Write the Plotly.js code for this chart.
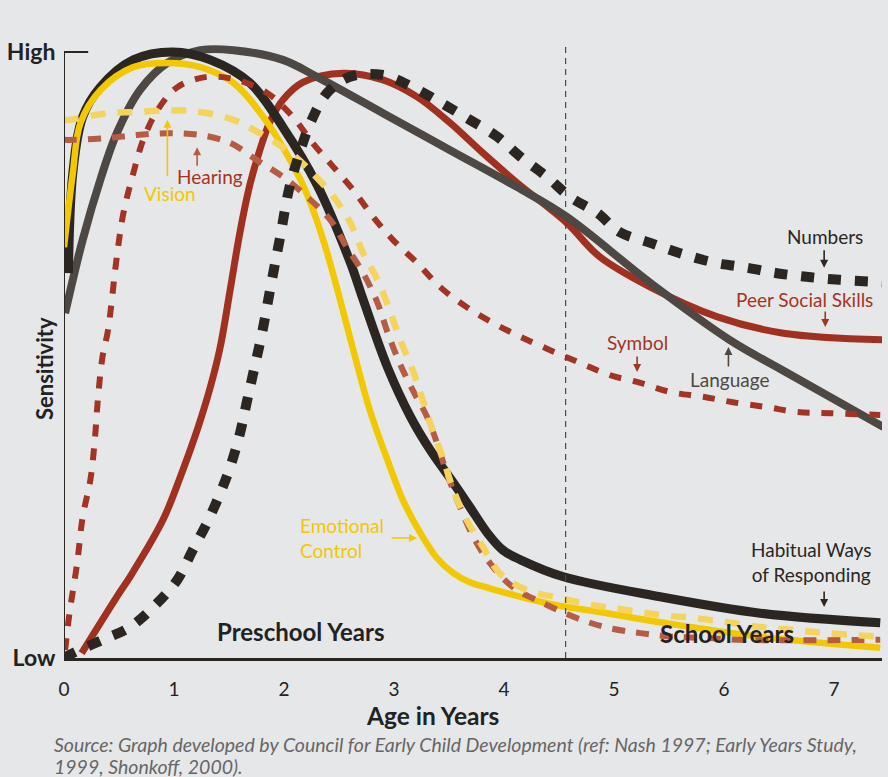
<!DOCTYPE html>
<html><head><meta charset="utf-8">
<script src="https://cdn.plot.ly/plotly-3.0.1.min.js"></script>
<style>html,body{margin:0;padding:0;background:#e6e7e9;}</style>
</head><body><div id="chart" style="width:888px;height:777px;"></div>
<script>
// Age in years / relative sensitivity (0 = Low, 1 = High)
const habitualX = [0.04,0.08,0.17,0.33,0.63,0.99,1.33,1.69,1.99,2.30,2.60,2.72,2.94,3.15,3.33,3.54,3.69,3.85,3.99,4.15,4.54,5.42,6.33,7.42];
const habitualY = [0.635,0.800,0.893,0.942,0.987,1.000,0.987,0.949,0.876,0.781,0.654,0.591,0.480,0.398,0.343,0.289,0.249,0.206,0.178,0.162,0.134,0.101,0.074,0.058];

const emotionalX = [0.00,0.08,0.15,0.33,0.63,0.94,1.24,1.54,1.85,2.15,2.24,2.37,2.51,2.63,2.78,2.94,3.08,3.24,3.39,3.54,3.70,3.85,4.15,4.51,4.87,5.42,6.33,7.42];
const emotionalY = [0.678,0.800,0.883,0.937,0.975,0.982,0.975,0.949,0.883,0.789,0.751,0.682,0.591,0.508,0.409,0.327,0.261,0.206,0.165,0.140,0.124,0.116,0.101,0.086,0.076,0.059,0.035,0.017];

const languageX = [0.01,0.17,0.33,0.48,0.69,0.94,1.24,1.54,1.99,2.30,2.90,3.51,4.12,4.57,5.33,6.05,6.54,7.45];
const languageY = [0.569,0.690,0.789,0.866,0.937,0.982,1.003,1.003,0.987,0.959,0.899,0.838,0.777,0.728,0.619,0.525,0.474,0.381];

const peerX = [0.16,0.48,0.60,0.90,1.08,1.21,1.33,1.42,1.51,1.60,1.69,1.78,1.87,1.99,2.17,2.54,2.90,3.21,3.51,3.81,4.12,4.57,4.87,5.33,5.94,6.54,7.45];
const peerY = [0.008,0.101,0.134,0.228,0.310,0.376,0.447,0.513,0.607,0.703,0.781,0.838,0.884,0.921,0.950,0.965,0.954,0.926,0.883,0.833,0.784,0.718,0.662,0.612,0.563,0.536,0.525];

const numbersX = [0.00,0.08,0.35,0.60,0.85,1.03,1.17,1.30,1.42,1.51,1.60,1.66,1.72,1.80,1.89,1.96,2.05,2.15,2.24,2.39,2.60,2.90,3.17,3.42,3.69,3.94,4.15,4.39,4.60,4.85,5.05,5.33,5.60,5.90,6.21,6.48,6.75,7.05,7.45];
const numbersY = [0.000,0.008,0.030,0.051,0.091,0.129,0.178,0.223,0.272,0.315,0.371,0.421,0.470,0.536,0.624,0.690,0.777,0.838,0.883,0.932,0.959,0.962,0.942,0.917,0.888,0.860,0.827,0.794,0.761,0.734,0.703,0.685,0.668,0.653,0.644,0.635,0.629,0.624,0.620];

const symbolX = [0.01,0.05,0.12,0.17,0.24,0.28,0.31,0.35,0.40,0.48,0.54,0.63,0.72,0.85,1.03,1.30,1.57,1.85,2.08,2.26,2.45,2.63,2.81,2.99,3.21,3.42,3.66,3.90,4.15,4.42,4.69,4.96,5.24,5.51,5.81,6.08,6.39,6.66,6.96,7.42];
const symbolY = [0.013,0.074,0.157,0.233,0.294,0.360,0.431,0.497,0.541,0.662,0.734,0.800,0.855,0.904,0.942,0.959,0.954,0.932,0.893,0.850,0.810,0.772,0.728,0.690,0.652,0.612,0.579,0.553,0.530,0.508,0.487,0.467,0.454,0.439,0.431,0.422,0.414,0.406,0.404,0.401];

const visionX = [0.00,0.05,0.39,0.66,0.96,1.24,1.54,1.78,2.05,2.26,2.45,2.60,2.72,2.85,2.96,3.05,3.17,3.26,3.35,3.45,3.54,3.66,3.81,3.96,4.21,4.51,4.81,5.12,5.42,5.72,6.03,6.33,6.63,6.94,7.42];
const visionY = [0.888,0.888,0.899,0.901,0.904,0.901,0.888,0.866,0.835,0.800,0.761,0.719,0.668,0.624,0.574,0.528,0.475,0.426,0.376,0.327,0.277,0.228,0.183,0.140,0.112,0.099,0.087,0.079,0.071,0.066,0.059,0.051,0.046,0.041,0.035];

const hearingX = [0.00,0.08,0.39,0.66,0.96,1.24,1.51,1.75,1.99,2.21,2.42,2.57,2.72,2.85,2.94,3.05,3.17,3.30,3.39,3.48,3.60,3.72,3.87,4.08,4.35,4.66,4.94,5.24,5.54,5.85,6.15,7.42];
const hearingY = [0.855,0.855,0.858,0.863,0.866,0.863,0.850,0.822,0.794,0.761,0.723,0.678,0.635,0.586,0.538,0.487,0.442,0.398,0.355,0.305,0.249,0.200,0.157,0.117,0.091,0.066,0.050,0.041,0.035,0.033,0.030,0.030];

const tickVals = [0,1,2,3,4,5,6,7];
const tickText = ["0","1","2","3","4","5","6","7"];
const schoolStart = 4.56;

const FONT = "Lato, 'Open Sans', sans-serif";
const DARK = "#2b2622";
const RED = "#a33424";
const YEL = "#f2c800";
const GRAY = "#4e4844";
const VIS = "#f5d45e";
const HEAR = "#b75c44";

function tr(x, y, color, width, dash) {
  return {x: x, y: y, type: 'scatter', mode: 'lines', hoverinfo: 'skip',
    line: {color: color, width: width, dash: dash || 'solid', shape: 'spline', smoothing: 1}};
}

const data = [
  tr(peerX, peerY, "#a0301f", 7),
  tr(languageX, languageY, GRAY, 8),
  tr(habitualX, habitualY, DARK, 9),
  tr(emotionalX, emotionalY, YEL, 6.5),
  tr(hearingX, hearingY, HEAR, 6, '13px,11px'),
  tr(visionX, visionY, VIS, 6.5, '15px,12px'),
  tr(symbolX, symbolY, RED, 6, '12px,12px'),
  tr(numbersX, numbersY, DARK, 10, '13px,14px')
];

const LS = 19;
function lbl(x, y, text, color, extra) {
  return Object.assign({x: x, y: y, xref: 'x', yref: 'y', text: text, showarrow: false,
    font: {family: FONT, size: LS, color: color}}, extra || {});
}
function arr(x, y, ax, ay, color) {
  return {x: x, y: y, xref: 'x', yref: 'y', text: '', showarrow: true, ax: ax, ay: ay,
    arrowhead: 2, arrowsize: 1, arrowwidth: 1.6, arrowcolor: color};
}

const annotations = [
  lbl(0.96, 0.767, 'Vision', YEL),
  arr(0.94, 0.888, 0, 58, YEL),
  lbl(1.33, 0.794, 'Hearing', RED),
  arr(1.21, 0.843, 0, 20, HEAR),
  lbl(2.13, 0.198, 'Emotional<br>Control', YEL, {xanchor: 'left', align: 'left'}),
  arr(3.21, 0.198, -27, 0, YEL),
  lbl(6.92, 0.696, 'Numbers', DARK),
  arr(6.91, 0.644, 0, -19, DARK),
  lbl(6.73, 0.592, 'Peer Social Skills', RED),
  arr(6.92, 0.546, 0, -17, RED),
  lbl(5.21, 0.520, 'Symbol', RED),
  arr(5.21, 0.472, 0, -17, RED),
  lbl(6.05, 0.459, 'Language', GRAY),
  arr(6.04, 0.513, 0, 21, GRAY),
  lbl(6.79, 0.158, 'Habitual Ways<br>of Responding', DARK),
  arr(6.91, 0.084, 0, -17, DARK),
  lbl(2.15, 0.043, '<b>Preschool Years</b>', '#222', {font: {family: FONT, size: 24, color: '#222'}}),
  lbl(6.03, 0.040, '<b>School Years</b>', '#222', {font: {family: FONT, size: 24, color: '#222'}}),
  {x: -0.0232, y: 0.453, xref: 'paper', yref: 'paper', xanchor: 'center', yanchor: 'middle', text: '<b>Sensitivity</b>', textangle: -90,
   showarrow: false, font: {family: FONT, size: 22, color: '#222'}},
  {x: 0.451, y: -0.0909, xref: 'paper', yref: 'paper', xanchor: 'center', yanchor: 'middle', showarrow: false,
   text: '<b>Age in Years</b>', font: {family: FONT, size: 24.5, color: '#222'}},
  {x: -0.0147, y: -0.1348, xref: 'paper', yref: 'paper', xanchor: 'left', yanchor: 'middle', showarrow: false,
   text: '<i>Source: Graph developed by Council for Early Child Development (ref: Nash 1997; Early Years Study,</i>',
   font: {family: FONT, size: 19.5, color: '#666'}},
  {x: -0.0147, y: -0.1708, xref: 'paper', yref: 'paper', xanchor: 'left', yanchor: 'middle', showarrow: false,
   text: '<i>1999, Shonkoff, 2000).</i>',
   font: {family: FONT, size: 19.5, color: '#666'}}
];

const shapes = [
  {type: 'line', xref: 'x', yref: 'y', x0: 0, x1: 0, y0: 0, y1: 1, line: {color: DARK, width: 2}},
  {type: 'line', xref: 'x', yref: 'y', x0: 0, x1: 0.22, y0: 1, y1: 1, line: {color: DARK, width: 2}},
  {type: 'line', xref: 'x', yref: 'y', x0: schoolStart, x1: schoolStart, y0: 0, y1: 1.012,
   line: {color: '#4a4a4a', width: 1.2, dash: '6px,5px'}}
];

const layout = {
  width: 888, height: 777,
  margin: {l: 64, r: 6, t: 20, b: 119},
  paper_bgcolor: '#e6e7e9', plot_bgcolor: '#e6e7e9',
  showlegend: false,
  font: {family: FONT, color: '#222'},
  xaxis: {range: [0, 7.436], tickvals: tickVals, ticktext: tickText, showgrid: false, zeroline: false,
    showline: true, linecolor: DARK, linewidth: 2.5, ticks: 'outside', ticklen: 13, tickcolor: 'rgba(0,0,0,0)',
    tickfont: {family: FONT, size: 19, color: '#222'}},
  yaxis: {range: [0, 1.0528], tickvals: [0, 1], ticktext: ['<b>Low</b>', '<b>High</b>'], showgrid: false,
    zeroline: false, showline: false, ticks: 'outside', ticklen: 3, tickcolor: 'rgba(0,0,0,0)',
    tickfont: {family: FONT, size: 23, color: '#222'}},
  annotations: annotations,
  shapes: shapes
};

Plotly.newPlot('chart', data, layout, {displayModeBar: false, staticPlot: true});
</script>
</body></html>
